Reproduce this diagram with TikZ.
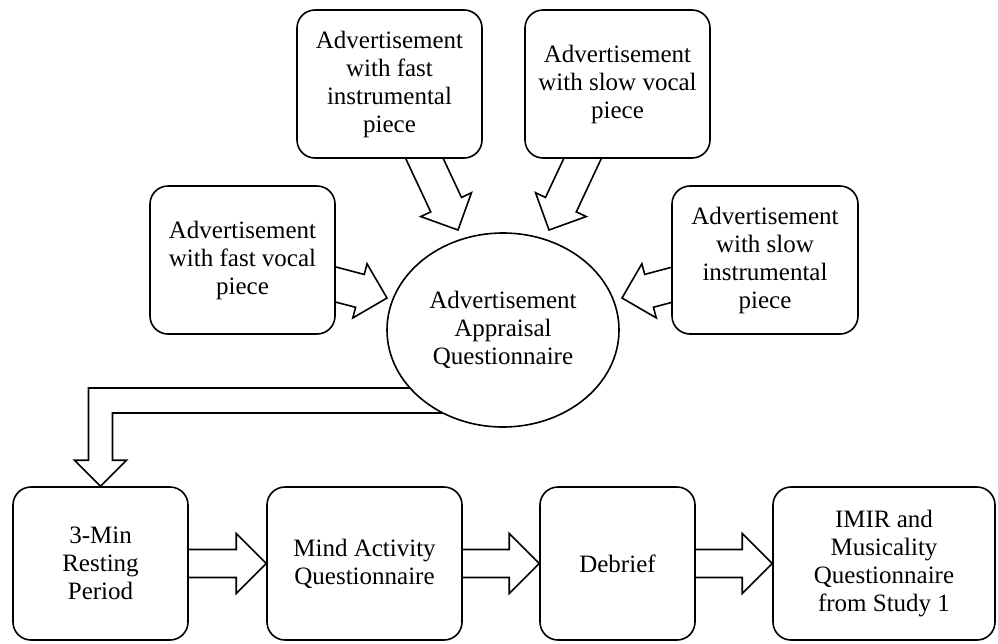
\documentclass[tikz,border=0pt]{standalone}
\usepackage{fontspec}
\setmainfont{Liberation Serif}
\usetikzlibrary{shapes.geometric, calc, backgrounds}
\tikzset{
  roundbox/.style={draw, line width=1.6pt, rounded corners=18pt, fill=white, align=center, inner sep=0pt, font=\fontsize{25}{28}\selectfont},
  arrowline/.style={draw, line width=1.6pt, fill=white, line join=miter}
}
% hollow block arrow: tail, tip, half shaft, half head, head length
\newcommand{\fatarrow}[5]{%
  \coordinate (neck) at ($(#2)!#5!(#1)$);
  \draw[arrowline] ($(#1)!#3!90:(#2)$) -- ($(neck)!#3!90:(#2)$) -- ($(neck)!#4!90:(#2)$) -- (#2)
    -- ($(neck)!#4!-90:(#2)$) -- ($(neck)!#3!-90:(#2)$) -- ($(#1)!#3!-90:(#2)$) -- cycle;
}
\begin{document}
\begin{tikzpicture}[x=1pt, y=1pt]
\useasboundingbox (0,0) rectangle (998,-643);

%advertisements
\node[roundbox, minimum width=185pt, minimum height=148pt] (fastinst) at (389.5,-84) {Advertisement\\with fast\\instrumental\\piece};
\node[roundbox, minimum width=185pt, minimum height=148pt] (slowvoc) at (617.5,-84) {Advertisement\\with slow vocal\\piece};
\node[roundbox, minimum width=185pt, minimum height=148pt] (fastvoc) at (242.5,-260) {Advertisement\\with fast vocal\\piece};
\node[roundbox, minimum width=186pt, minimum height=148pt] (slowinst) at (765,-260) {Advertisement\\with slow\\instrumental\\piece};

%appraisal
\node[draw, ellipse, line width=1.6pt, fill=white, align=center, inner sep=0pt, minimum width=232pt, minimum height=194pt, font=\fontsize{25}{28}\selectfont] (appr) at (503,-330) {Advertisement\\Appraisal\\Questionnaire};

%bottom row
\node[roundbox, minimum width=175pt, minimum height=153pt] (rest) at (100.5,-563.5) {3-Min\\Resting\\Period};
\node[roundbox, minimum width=195pt, minimum height=153pt] (mind) at (364.5,-563.5) {Mind Activity\\Questionnaire};
\node[roundbox, minimum width=155pt, minimum height=153pt] (debrief) at (617.5,-563.5) {Debrief};
\node[roundbox, minimum width=222pt, minimum height=153pt] (imir) at (884,-563.5) {IMIR and\\Musicality\\Questionnaire\\from Study 1};

\coordinate (tipfi) at (458,-230);
\coordinate (tipsv) at (549,-230);
\coordinate (tipfv) at (387,-298);
\coordinate (tipsi) at (622,-298);

%arrows
\begin{scope}[on background layer]
\fatarrow{fastinst.center}{tipfi}{17pt}{28pt}{28pt}
\fatarrow{slowvoc.center}{tipsv}{17pt}{28pt}{28pt}
\fatarrow{fastvoc.center}{tipfv}{17pt}{28pt}{28pt}
\fatarrow{slowinst.center}{tipsi}{17pt}{28pt}{28pt}

\fatarrow{rest.center}{mind.west}{14pt}{30pt}{30pt}
\fatarrow{mind.center}{debrief.west}{14pt}{30pt}{30pt}
\fatarrow{debrief.center}{imir.west}{14pt}{30pt}{30pt}

\draw[arrowline] ([yshift=-58pt]appr.center) -| ([shift={(-12pt,26pt)}]rest.north) -- ++(-14,0) -- (rest.north) -- ++(26,26) -- ++(-14,0) |- ([yshift=-83pt]appr.center) -- cycle;
\end{scope}

\end{tikzpicture}
\end{document}
